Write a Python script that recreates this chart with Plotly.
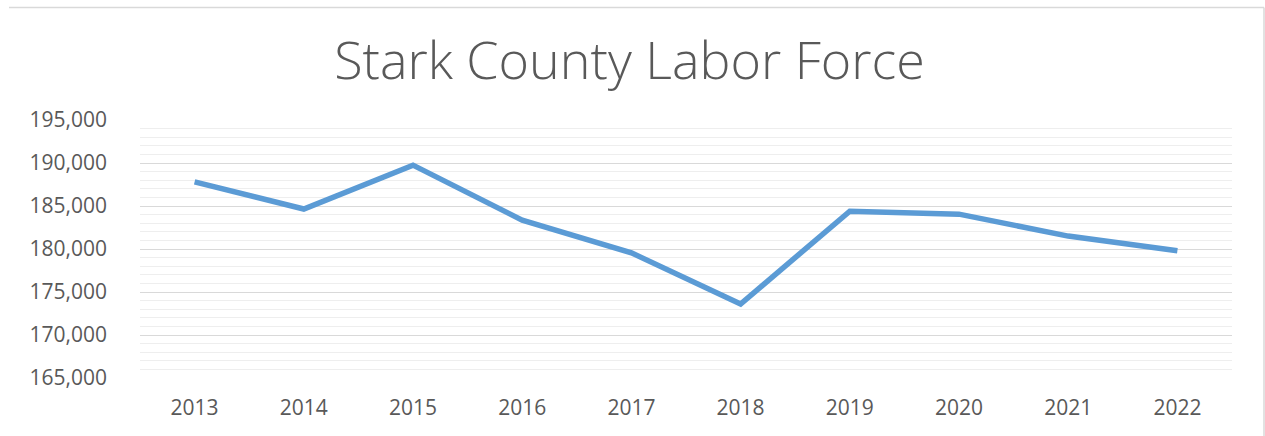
import plotly.graph_objects as go

years = ["2013", "2014", "2015", "2016", "2017", "2018", "2019", "2020", "2021", "2022"]
labor_force = [187800, 184650, 189750, 183350, 179550, 173600, 184400, 184050, 181500, 179800]

y_tick_vals = [165000, 170000, 175000, 180000, 185000, 190000, 195000]
y_tick_text = ["165,000", "170,000", "175,000", "180,000", "185,000", "190,000", "195,000"]

W, H = 1265, 436
L, R, T, B = 140, 33, 120, 58
pw, ph = W - L - R, H - T - B

fig = go.Figure()
fig.add_trace(go.Scatter(
    x=years, y=labor_force, mode="lines",
    line=dict(color="#5B9BD5", width=5.5),
    hoverinfo="x+y", showlegend=False,
))

def px_x(x):
    return (x - L) / pw

def px_y(y):
    return (H - B - y) / ph

# chart border (top and right edges visible in reference)
fig.add_shape(type="line", xref="paper", yref="paper",
              x0=px_x(9), x1=px_x(1264), y0=px_y(7.5), y1=px_y(7.5),
              line=dict(color="#d9d9d9", width=1.5))
fig.add_shape(type="line", xref="paper", yref="paper",
              x0=px_x(1264), x1=px_x(1264), y0=px_y(7.5), y1=px_y(436),
              line=dict(color="#d9d9d9", width=1.5))

fig.update_layout(
    width=W, height=H,
    margin=dict(l=L, r=R, t=T, b=B),
    paper_bgcolor="white", plot_bgcolor="white",
    font=dict(family="Open Sans", color="#595959"),
    title=dict(text="Stark County Labor Force", x=0.4976, xref="container",
               y=1 - 61 / H, yref="container", xanchor="center", yanchor="middle",
               font=dict(family="Open Sans", size=52, color="#595959", weight=300)),
    xaxis=dict(type="category", range=[-0.5, 9.5], showgrid=False, zeroline=False,
               showline=False, ticks="", ticklabelstandoff=15,
               tickfont=dict(size=21, color="#595959")),
    yaxis=dict(range=[165000, 195000], tickvals=y_tick_vals, ticktext=y_tick_text,
               showgrid=True, gridcolor="#d9d9d9", gridwidth=1, zeroline=False,
               showline=False, ticks="", ticklabelstandoff=32,
               tickfont=dict(size=21, color="#595959"),
               minor=dict(dtick=1000, tick0=165000, showgrid=True,
                          gridcolor="#eeeeee", gridwidth=1, ticks="")),
)

fig.write_html("out.html", config={"displayModeBar": False},
               post_script="document.body.style.margin='0';document.body.style.padding='0';")
